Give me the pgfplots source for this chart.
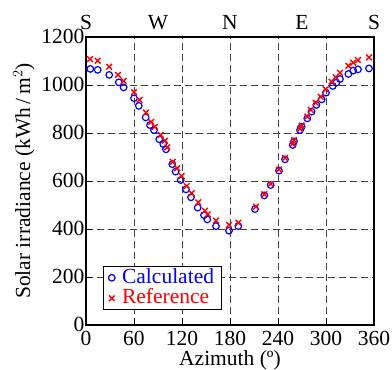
\documentclass[border=0pt]{standalone}
\usepackage{pgfplots}
\pgfplotsset{compat=1.18}
\usepackage{fontspec}
\setmainfont{Liberation Serif}
\begin{document}
\begin{tikzpicture}
\newcommand{\fs}{\fontsize{21.5}{24}\selectfont}
\begin{axis}[
  at={(0pt,0pt)}, anchor=south west,
  scale only axis, width=288pt, height=288pt,
  xmin=0, xmax=360, ymin=0, ymax=1200,
  xtick={0,60,...,360}, ytick={0,200,...,1200},
  tick align=inside, major tick length=6pt,
  tick style={black, line width=0.6pt},
  xtick pos=bottom, ytick pos=left,
  axis line style={line width=2.4pt},
  grid=major, grid style={black!75, line width=0.7pt, dash pattern=on 7pt off 4pt},
  tick label style={font=\fs},
  /pgf/number format/assume math mode=true,
  /pgf/number format/1000 sep={},
  xticklabel style={yshift=-3pt},
  yticklabel style={xshift=2pt, yshift=1pt},
  xlabel={Azimuth (º)}, ylabel={Solar irradiance (kWh\,/\,m$^{2}$)},
  label style={font=\fs},
  xlabel style={yshift=2pt}, ylabel style={yshift=0pt},
  legend style={at={(0.059,0.052)}, anchor=south west, font=\fs, draw=black, line width=1pt,
    inner xsep=5pt, inner ysep=1pt, row sep=0pt, legend cell align=left,
    nodes={inner xsep=2pt, inner ysep=0.5pt, text height=15pt, text depth=4.5pt},
    /tikz/every odd column/.append style={column sep=5pt}},
  clip=false,
]
\addplot[only marks, mark=o, mark size=3.3pt, blue, line width=1.2pt] coordinates {
(5.4,1067) (14.6,1063) (29,1042) (41,1011) (47,990) (60,945) (66,913) (74.6,865) (80,833) (85,812)
(91.6,774) (96.6,754) (100,732) (107.9,670) (112,639) (118.4,604) (125,565) (131.25,532) (139.6,489)
(147.5,458) (151.6,440) (162.5,412) (178.75,393) (190.4,412) (211.25,483) (222.9,540) (230.8,583)
(241.25,643) (248.75,690) (258.4,750) (260,765) (267.5,812) (269.6,826) (276.6,861) (282,889) (288,917)
(294.6,940) (300,968) (308.4,996) (313,1010) (317.5,1025) (328,1046) (334,1060) (340,1065) (353.75,1069)
};
\addlegendentry{\textcolor{blue}{Calculated}}
\addplot[only marks, mark=x, mark size=4pt, red, line width=1.4pt] coordinates {
(5,1108) (14.6,1101) (29,1076) (40,1042) (47,1017) (60,970) (67,938) (75,885) (81.5,846) (86,826)
(93.4,792) (98.75,768) (101.6,740) (108.4,680) (114,653) (119.6,621) (125.9,579) (132.1,549) (140.4,511)
(148.75,476) (152.1,461) (162.5,435) (178.75,417) (190.4,426) (212.5,493) (223,545) (231,588)
(241.25,648) (249,696) (258.4,755) (260,770) (267.5,817) (269.6,831) (276.5,868) (281,896) (287,926)
(293.4,951) (299.6,982) (307,1014) (312,1032) (317.5,1051) (328,1080) (334,1093) (340,1104) (353.75,1115)
};
\addlegendentry{\textcolor{red}{Reference}}
\end{axis}
\begin{axis}[
  at={(0pt,0pt)}, anchor=south west,
  scale only axis, width=288pt, height=288pt,
  xmin=0, xmax=360, ymin=0, ymax=1200,
  axis x line*=top, axis y line=none,
  axis line style={draw=none},
  xtick={0,90,180,270,360}, xticklabels={S,W,N,E,S},
  major tick length=0pt,
  tick label style={font=\fs},
  xticklabel style={yshift=4pt},
]
\end{axis}
\pgfresetboundingbox
\path (-86pt,-45pt) rectangle (306pt,325pt);
\end{tikzpicture}
\end{document}
